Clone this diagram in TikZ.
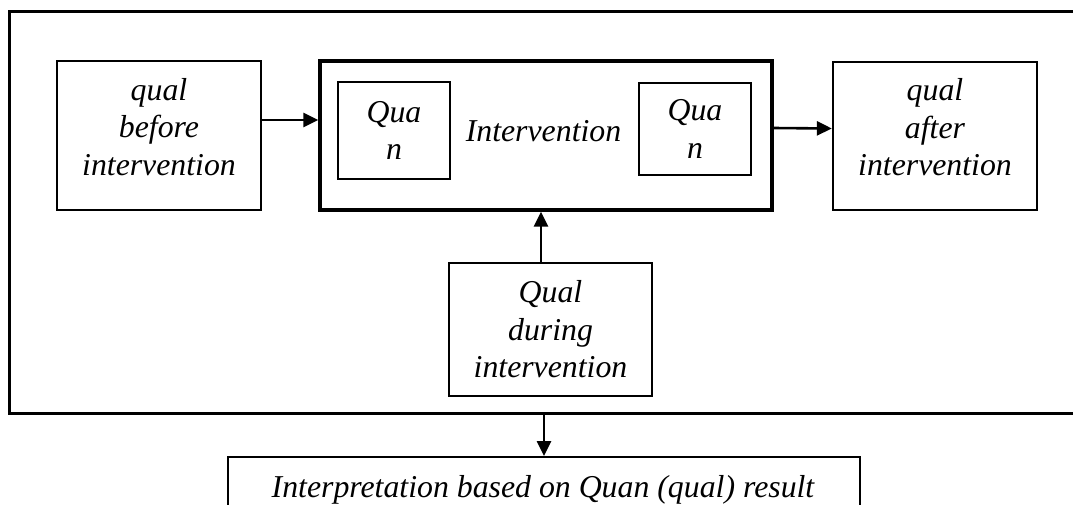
\documentclass[tikz,border=0pt]{standalone}
\usepackage{fontspec}
\setmainfont{Liberation Serif}
\usetikzlibrary{arrows.meta,calc}
\begin{document}
\begin{tikzpicture}[x=1pt,y=-1pt,
  every node/.style={font=\fontsize{31.8}{37.5}\selectfont\itshape},
  box/.style={draw, line width=2.3pt, inner sep=0pt},
  txt/.style={align=center, inner sep=0pt},
  arr/.style={line width=2.6pt, -{Triangle[length=15pt,width=14pt]}}]
\useasboundingbox (0,0) rectangle (1073,504);
\clip (0,0) rectangle (1073,504);
\node[box, line width=3pt, minimum width=1081pt, minimum height=402pt] (frame) at (549.5,212) {};
\node[box, minimum width=204pt, minimum height=149pt] (before) at (159,135.5) {};
\node[txt] (beforetxt) at ([yshift=8.6pt]before.center) {qual\\before\\intervention};
\node[box, line width=3.3pt, minimum width=452pt, minimum height=149pt] (interv) at (546,135.5) {};
\node[box, line width=1.8pt, minimum width=112pt, minimum height=97pt, align=center] (quanL) at (394,130.5) {Qua\\n};
\node[box, line width=1.8pt, minimum width=112pt, minimum height=92pt, align=center] (quanR) at (695,129) {Qua\\n};
\node[inner sep=0pt, anchor=base] (intervtxt) at (543.5,141) {Intervention};
\node[box, minimum width=204pt, minimum height=148pt] (after) at (935,136) {};
\node[txt] (aftertxt) at ([yshift=8.6pt]after.center) {qual\\after\\intervention};
\node[box, minimum width=203pt, minimum height=133pt, align=center] (during) at (550.5,329.5) {Qual\\during\\intervention};
\node[box, line width=2pt, minimum width=632pt, minimum height=90pt] (interp) at (544,502) {};
\node[inner sep=0pt, anchor=base] (interptxt) at (543,497) {Interpretation based on Quan (qual) result};
\draw[arr] ([yshift=15.5pt]before.east) -- ([yshift=15.5pt]interv.west);
\draw[arr] ([yshift=7.5pt]interv.east) -- ([yshift=7.5pt]after.west);
\draw[arr] ([xshift=-9.5pt]during.north) -- ([xshift=-5pt]interv.south);
\draw[arr] (frame.south -| interp.north) -- (interp.north);
\end{tikzpicture}
\end{document}
